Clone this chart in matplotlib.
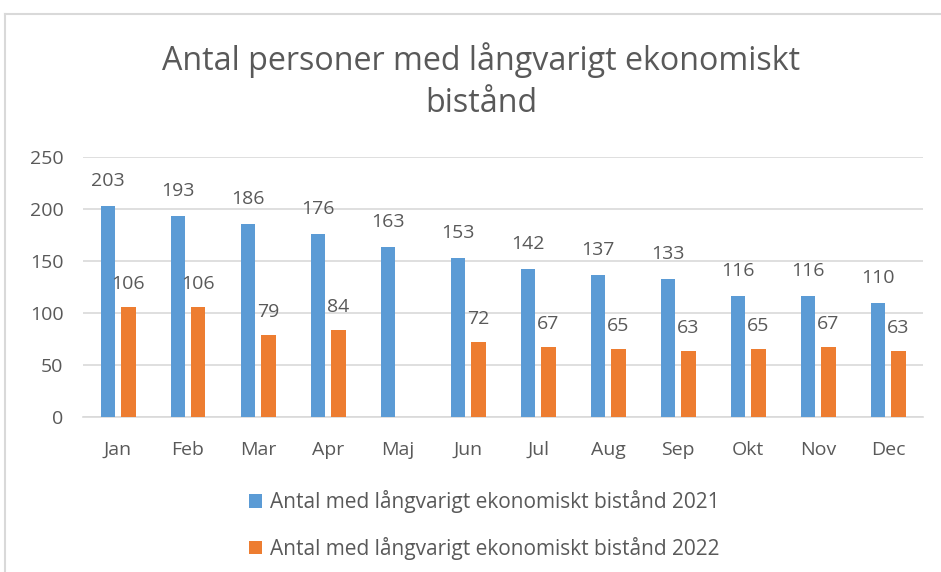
import numpy as np
import matplotlib
matplotlib.use("Agg")
import matplotlib.pyplot as plt

plt.rcParams['font.family'] = ['Open Sans', 'DejaVu Sans']

months = ["Jan", "Feb", "Mar", "Apr", "Maj", "Jun", "Jul", "Aug", "Sep", "Okt", "Nov", "Dec"]
values_2021 = [203, 193, 186, 176, 163, 153, 142, 137, 133, 116, 116, 110]
values_2022 = [106, 106, 79, 84, None, 72, 67, 65, 63, 65, 67, 63]
series_names = ["Antal med långvarigt ekonomiskt bistånd 2021",
                "Antal med långvarigt ekonomiskt bistånd 2022"]
title_lines = ["Antal personer med långvarigt ekonomiskt", "bistånd"]
yticks = [0, 50, 100, 150, 200, 250]

BLUE = "#5B9BD5"
ORANGE = "#ED7D31"
TXT = "#595959"
GRID = "#D9D9D9"

W, H = 941, 572
fig = plt.figure(figsize=(W / 100, H / 100), dpi=100)

def fx(px):
    return px / W

def fy(py):
    return 1 - py / H

ax = fig.add_axes([fx(83), fy(417), fx(923) - fx(83), fy(157) - fy(417)])

x = np.arange(len(months))
bw = 0.214
off = 0.143
v21 = np.array(values_2021, dtype=float)
v22 = np.array([np.nan if v is None else v for v in values_2022], dtype=float)

b1 = ax.bar(x - off, v21, width=bw, color=BLUE, zorder=3, label=series_names[0])
b2 = ax.bar(x + off, v22, width=bw, color=ORANGE, zorder=3, label=series_names[1])

lab_fs = 14
for xi, v in zip(x - off, v21):
    ax.annotate(f"{int(v)}", (xi, v), xytext=(0, 16), textcoords="offset pixels",
                ha="center", va="bottom", fontsize=lab_fs, color=TXT)
for xi, v in zip(x + off, v22):
    if np.isnan(v):
        continue
    ax.annotate(f"{int(v)}", (xi, v), xytext=(0, 14), textcoords="offset pixels",
                ha="center", va="bottom", fontsize=lab_fs, color=TXT)

ax.set_xlim(-0.5, len(months) - 0.5)
ax.set_ylim(0, 250)
ax.set_yticks(yticks)
ax.set_xticks(x)
ax.set_xticklabels(months)
ax.yaxis.grid(True, color=GRID, linewidth=1.2, zorder=0)
ax.set_axisbelow(True)
for s in ["top", "right", "left"]:
    ax.spines[s].set_visible(False)
ax.spines["bottom"].set_color(GRID)
ax.spines["bottom"].set_linewidth(1.2)
ax.tick_params(axis="both", length=0, labelsize=14, labelcolor=TXT)
ax.tick_params(axis="y", pad=14)
ax.tick_params(axis="x", pad=17)

fig.text(fx(481), fy(60), title_lines[0], ha="center", va="center", fontsize=23.2,
         color=TXT)
fig.text(fx(481), fy(103), title_lines[1], ha="center", va="center", fontsize=23.2,
         color=TXT)

leg = fig.legend(handles=[b1, b2], labels=series_names, loc="center left",
                 bbox_to_anchor=(fx(249), fy(525)), frameon=False,
                 fontsize=15, labelcolor=TXT, handlelength=0.62, handleheight=0.62,
                 handletextpad=0.4, labelspacing=1.12, borderaxespad=0, borderpad=0)

# chart frame (top and left borders)
fig.add_artist(plt.Line2D([fx(5), 1], [fy(14), fy(14)], color=GRID, linewidth=1.5,
                          transform=fig.transFigure))
fig.add_artist(plt.Line2D([fx(5), fx(5)], [fy(14), 0], color=GRID, linewidth=1.5,
                          transform=fig.transFigure))

fig.savefig("out.png", dpi=100)
